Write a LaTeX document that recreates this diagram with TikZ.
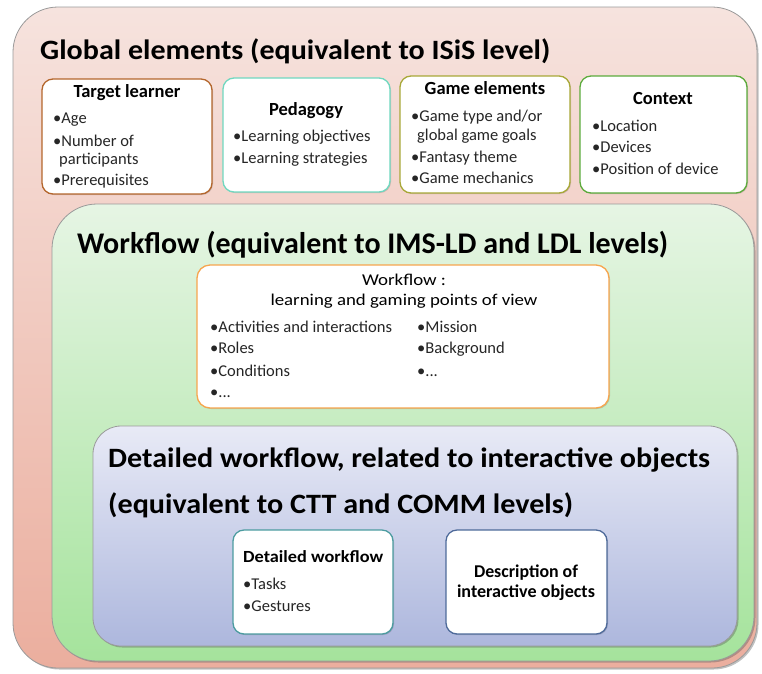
\documentclass[tikz,border=0pt]{standalone}
\usepackage{fontspec}
\setmainfont{Carlito}
\usetikzlibrary{shadows}
\definecolor{outerTop}{HTML}{F6E3DE}
\definecolor{outerBot}{HTML}{EBAE9E}
\definecolor{greenTop}{HTML}{E6F5E4}
\definecolor{greenBot}{HTML}{A5E39C}
\definecolor{blueTop}{HTML}{E8EAF6}
\definecolor{blueBot}{HTML}{ADB7DD}
\definecolor{panelgray}{HTML}{9A9A9A}
\definecolor{cTarget}{HTML}{B4662C}
\definecolor{cPeda}{HTML}{70D8C0}
\definecolor{cGame}{HTML}{A8A838}
\definecolor{cContext}{HTML}{5CAB3C}
\definecolor{cWork}{HTML}{F7A54E}
\definecolor{cDet}{HTML}{4C9CA0}
\definecolor{cDesc}{HTML}{4E6A9A}
\definecolor{bodytext}{HTML}{262626}
\newcommand{\fitw}[2]{\resizebox{#1}{\height}{#2}}
\begin{document}
\begin{tikzpicture}[x=1pt,y=-1pt,
  panel/.style={draw=panelgray, line width=0.8pt, inner sep=0pt,
    drop shadow={shadow xshift=1.5pt, shadow yshift=-1.5pt, opacity=0.35, fill=black!70}},
  card/.style={line width=1.3pt, fill=white, rounded corners=11pt, inner sep=0pt,
    drop shadow={shadow xshift=1pt, shadow yshift=-1pt, opacity=0.15, fill=black}},
  txt/.style={inner sep=0pt, anchor=base west, text=bodytext, font=\fontsize{16.5}{18}\selectfont},
  head/.style={inner sep=0pt, anchor=base, font=\fontsize{18.5}{20}\selectfont\bfseries},
  ctr/.style={inner sep=0pt, anchor=base, font=\fontsize{16.5}{18}\selectfont},
  bigtitle/.style={inner sep=0pt, anchor=base west, font=\fontsize{28}{30}\selectfont\bfseries}
]
\useasboundingbox (0,0) rectangle (762,673);

% panels
\node[panel, rounded corners=45pt, top color=outerTop, bottom color=outerBot,
  minimum width=744pt, minimum height=661pt] (outer) at (385,337.5) {};
\node[panel, rounded corners=45pt, top color=greenTop, bottom color=greenBot,
  minimum width=702pt, minimum height=457pt] (green) at (403,432.5) {};
\node[panel, rounded corners=28pt, top color=blueTop, bottom color=blueBot,
  minimum width=644pt, minimum height=220pt] (blue) at (415,536) {};

% global title
\node[bigtitle] (gtitle) at (40,59) {\fitw{510pt}{Global elements (equivalent to ISiS level)}};

% top cards
\node[card, draw=cTarget, minimum width=170pt, minimum height=115pt] (target) at (127,136.5) {};
\node[head] (targetH) at (127,97) {Target learner};
\node[txt] (t1) at (53,123) {\textbullet Age};
\node[txt] (t2) at (53,146) {\textbullet Number of};
\node[txt] (t3) at (59,164) {participants};
\node[txt] (t4) at (53,185) {\textbullet Prerequisites};

\node[card, draw=cPeda, minimum width=167pt, minimum height=114pt] (peda) at (306.5,135) {};
\node[head] (pedaH) at (306,115) {Pedagogy};
\node[txt] (p1) at (233,141) {\textbullet Learning objectives};
\node[txt] (p2) at (233,163) {\textbullet Learning strategies};

\node[card, draw=cGame, minimum width=170pt, minimum height=117pt] (game) at (485,134.5) {};
\node[head] (gameH) at (485,94) {Game elements};
\node[txt] (g1) at (411,121) {\textbullet Game type and/or};
\node[txt] (g2) at (417,140) {global game goals};
\node[txt] (g3) at (411,162) {\textbullet Fantasy theme};
\node[txt] (g4) at (411,183) {\textbullet Game mechanics};

\node[card, draw=cContext, minimum width=167pt, minimum height=117pt] (context) at (663.5,134.5) {};
\node[head] (contextH) at (663,104) {Context};
\node[txt] (c1) at (592,131) {\textbullet Location};
\node[txt] (c2) at (592,152) {\textbullet Devices};
\node[txt] (c3) at (592,174) {\textbullet Position of device};

% workflow
\node[bigtitle, font=\fontsize{30}{32}\selectfont\bfseries] (wtitle) at (77,253)
  {\fitw{591pt}{Workflow (equivalent to IMS-LD and LDL levels)}};
\node[card, draw=cWork, rounded corners=13pt, minimum width=412pt, minimum height=143pt] (work) at (403,336.5) {};
\node[ctr] (wH1) at (404,285) {\fitw{84pt}{Workflow :}};
\node[ctr] (wH2) at (404,305) {\fitw{267pt}{learning and gaming points of view}};
\node[txt] (w1) at (210,332) {\fitw{182pt}{\textbullet Activities and interactions}};
\node[txt] (w2) at (210,353) {\textbullet Roles};
\node[txt] (w3) at (210,376) {\textbullet Conditions};
\node[txt] (w4) at (210,397) {\textbullet ...};
\node[txt] (w5) at (417,332) {\textbullet Mission};
\node[txt] (w6) at (417,353) {\textbullet Background};
\node[txt] (w7) at (417,376) {\textbullet ...};

% detailed
\node[bigtitle] (dtitle1) at (108,467) {\fitw{602pt}{Detailed workflow, related to interactive objects}};
\node[bigtitle] (dtitle2) at (108,513) {\fitw{465pt}{(equivalent to CTT and COMM levels)}};

\node[card, draw=cDet, minimum width=160pt, minimum height=104pt] (det) at (313,582) {};
\node[head, anchor=base west, font=\fontsize{17}{19}\selectfont\bfseries] (detH) at (243,562) {\fitw{140pt}{Detailed workflow}};
\node[txt] (d1) at (243,589) {\textbullet Tasks};
\node[txt] (d2) at (243,611) {\textbullet Gestures};

\node[card, draw=cDesc, minimum width=161pt, minimum height=104pt] (desc) at (526.5,582) {};
\node[head, font=\fontsize{18}{20}\selectfont\bfseries] (descH1) at (526,577) {\fitw{104pt}{Description of}};
\node[head, font=\fontsize{18}{20}\selectfont\bfseries] (descH2) at (526,597) {\fitw{138pt}{interactive objects}};
\end{tikzpicture}
\end{document}
